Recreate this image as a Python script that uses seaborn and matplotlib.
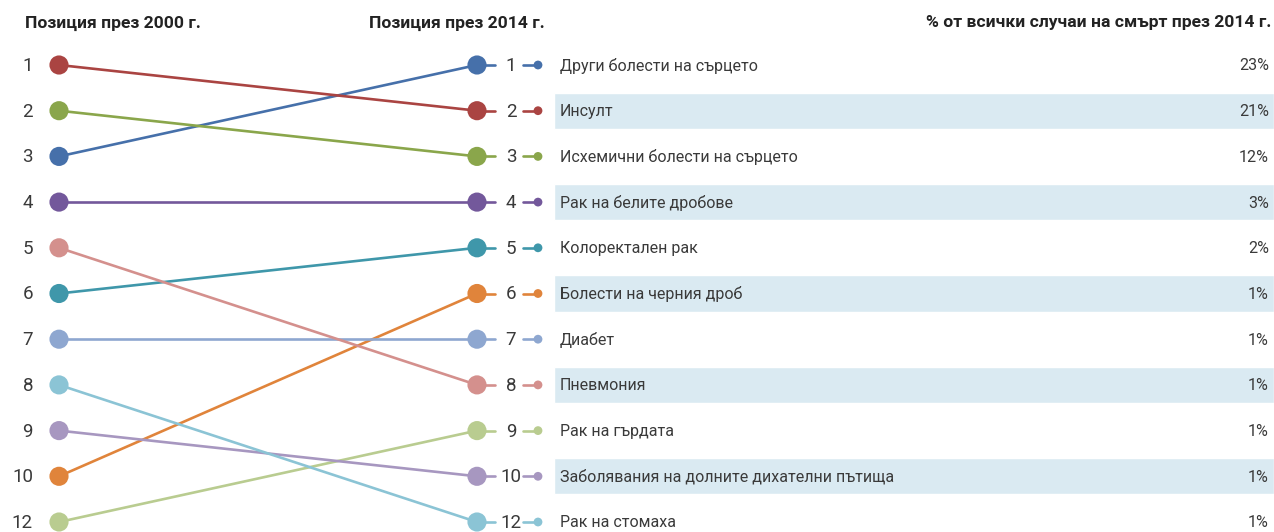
import matplotlib
matplotlib.use("Agg")
import numpy as np
import pandas as pd
import seaborn as sns
import matplotlib.pyplot as plt

# data: causes in 2014 order
causes = ['Други болести на сърцето', 'Инсулт', 'Исхемични болести на сърцето',
          'Рак на белите дробове', 'Колоректален рак', 'Болести на черния дроб',
          'Диабет', 'Пневмония', 'Рак на гърдата',
          'Заболявания на долните дихателни пътища', 'Рак на стомаха']
rank_2014 = [1, 2, 3, 4, 5, 6, 7, 8, 9, 10, 12]
rank_2000 = [3, 1, 2, 4, 6, 10, 7, 5, 12, 9, 8]
share_2014 = [23, 21, 12, 3, 2, 1, 1, 1, 1, 1, 1]
rank_labels = [1, 2, 3, 4, 5, 6, 7, 8, 9, 10, 12]
colors = ['#4670aa', '#aa4442', '#8aa64b', '#73589b', '#3f97aa', '#e0843b',
          '#8ea7d0', '#d4908d', '#b9cc90', '#a797c0', '#8bc4d5']

sns.set_style('white')
plt.rcParams['font.family'] = ['Roboto', 'DejaVu Sans']

# layout (pixels)
X_LEFT, X_RIGHT = 59, 477
ROW0, ROW_STEP = 65, 45.7
W, H = 1274, 532

slot = {r: i for i, r in enumerate(rank_labels)}
df = pd.DataFrame({
    'cause': causes * 2,
    'x': [X_LEFT] * len(causes) + [X_RIGHT] * len(causes),
    'slot': [slot[r] for r in rank_2000] + [slot[r] for r in rank_2014],
})
pal = dict(zip(causes, colors))

fig = plt.figure(figsize=(W / 100, H / 100), dpi=100)
ax = fig.add_axes([0, 0, 1, 1])
ax.set_xlim(0, W)
ax.set_ylim((H - ROW0) / ROW_STEP, -ROW0 / ROW_STEP)
ax.axis('off')

# shaded bands behind even rows
for i in range(1, len(rank_labels), 2):
    ax.barh(i, W - 554, left=554, height=0.79, color='#daeaf2', zorder=0)

sns.lineplot(data=df, x='x', y='slot', hue='cause', palette=pal, units='cause',
             estimator=None, sort=False, legend=False, linewidth=1.9, ax=ax, zorder=2)
sns.scatterplot(data=df, x='x', y='slot', hue='cause', palette=pal, s=190,
                edgecolor='none', legend=False, ax=ax, zorder=3)

txt = '#3a3a3a'
for i, r in enumerate(rank_labels):
    ax.text(33, i + 0.02, str(r), ha='right', va='center', fontsize=13.5, color=txt)

for c, r, p, col in zip(causes, rank_2014, share_2014, colors):
    i = slot[r]
    ax.plot([X_RIGHT, 495], [i, i], color=col, lw=1.9, zorder=2)
    ax.plot([523, 538], [i, i], color=col, lw=1.9, zorder=2)
    ax.scatter([538], [i], s=40, color=col, edgecolor='none', zorder=3)
    ax.text(511, i + 0.02, str(r), ha='center', va='center', fontsize=13.5, color=txt)
    ax.text(560, i + 0.02, c, ha='left', va='center', fontsize=11.5, color=txt)
    ax.text(1269, i + 0.02, f'{p}%', ha='right', va='center', fontsize=11.5, color=txt)

hy = (23 - ROW0) / ROW_STEP
ax.text(25, hy, 'Позиция през 2000 г.', ha='left', va='center', fontsize=12.6,
        fontweight='bold', color='#222222')
ax.text(369, hy, 'Позиция през 2014 г.', ha='left', va='center', fontsize=12.6,
        fontweight='bold', color='#222222')
ax.text(1271, hy, '% от всички случаи на смърт през 2014 г.', ha='right', va='center',
        fontsize=12.6, fontweight='bold', color='#222222')

fig.savefig('out.png', dpi=100)
